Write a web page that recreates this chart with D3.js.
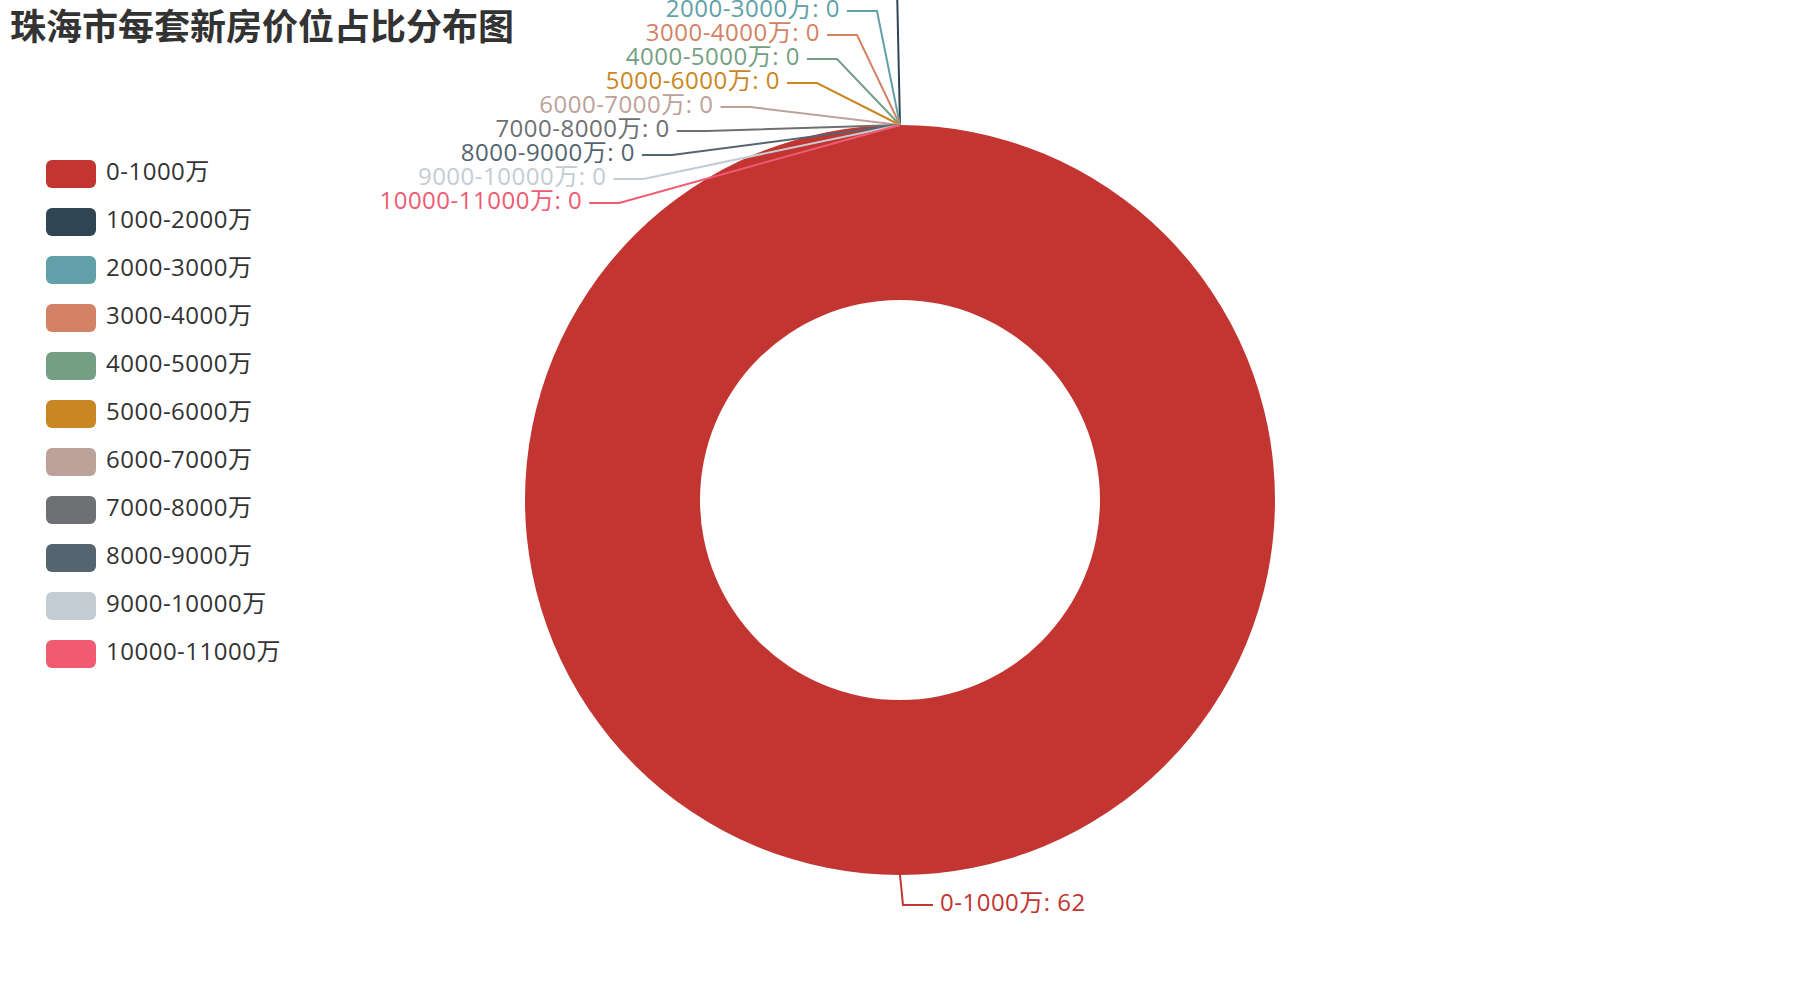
<!DOCTYPE html>
<html>
<head>
<meta charset="utf-8">
<script src="https://cdn.jsdelivr.net/npm/d3@7/dist/d3.min.js"></script>
<style>
  html, body { margin: 0; padding: 0; background: #fff; }
  svg { display: block; }
  text { font-family: "Open Sans", "Noto Sans CJK SC", sans-serif; }
</style>
</head>
<body>
<svg id="chart" width="1800" height="1000"></svg>
<script>
// ---- data ----
const titleText = "珠海市每套新房价位占比分布图";
const categories = ["0-1000万", "1000-2000万", "2000-3000万", "3000-4000万", "4000-5000万",
  "5000-6000万", "6000-7000万", "7000-8000万", "8000-9000万", "9000-10000万", "10000-11000万"];
const values = [62, 0, 0, 0, 0, 0, 0, 0, 0, 0, 0];
const colors = ["#c23531", "#2f4554", "#61a0a8", "#d48265", "#749f83", "#ca8622",
  "#bda29a", "#6e7074", "#546570", "#c4ccd3", "#f05b72"];

// ---- layout ----
const W = 1800, H = 1000;
const cx = 900, cy = 500, rInner = 200, rOuter = 375;
const len1 = 30, len2 = 30, textOffset = 10, lineGap = 7, labelH = 24, stepX = 20;
const textDy = "-3.5";

const svg = d3.select("#chart");
svg.append("rect").attr("width", W).attr("height", H).attr("fill", "#fff");

const data = categories.map((c, i) => ({ name: c, value: values[i], color: colors[i], idx: i }));
const pie = d3.pie().value(d => d.value).sort(null).startAngle(0).endAngle(2 * Math.PI);
const arcs = pie(data);
const arcGen = d3.arc().innerRadius(rInner).outerRadius(rOuter);

const g = svg.append("g").attr("transform", `translate(${cx},${cy})`);
g.selectAll("path.slice").data(arcs).join("path")
  .attr("class", "slice")
  .attr("d", arcGen)
  .attr("fill", d => d.data.color);

// label layout (ECharts-like)
const labels = arcs.map(a => {
  const mid = (a.startAngle + a.endAngle) / 2;
  const dx = Math.sin(mid), dy = -Math.cos(mid);
  const dir = dx < 0 ? -1 : 1;
  const x1 = cx + rOuter * dx, y1 = cy + rOuter * dy;
  const x2 = cx + (rOuter + len1) * dx, y2 = cy + (rOuter + len1) * dy;
  const x3 = x2 + dir * len2;
  return {
    d: a.data, dir, x: x3 + dir * textOffset, y: y2, height: labelH,
    p0: [x1, y1], dist: x2 - x3
  };
});

function adjustSingleSide(list, dir, bottom) {
  list.sort((a, b) => a.y - b.y);
  function shiftUp(end, delta) {
    for (let j = end; j >= 0; j--) {
      list[j].y -= delta;
      if (j > 0 && list[j].y > list[j - 1].y + list[j - 1].height) break;
    }
  }
  function shiftDown(start, end, delta) {
    for (let j = start; j < end; j++) {
      if (list[j].y + delta > bottom) break;
      list[j].y += delta;
      if (j > start && j + 1 < end && list[j + 1].y > list[j].y + list[j].height) {
        shiftUp(j, delta / 2);
        return;
      }
    }
    shiftUp(end - 1, delta / 2);
  }
  function changeX(sub, isDown) {
    let last = isDown ? Number.MAX_VALUE : 0;
    for (const it of sub) {
      const deltaY = Math.abs(it.y - cy);
      let deltaX = deltaY < rOuter + len1
        ? Math.sqrt((rOuter + len1 + len2) ** 2 - deltaY * deltaY)
        : Math.abs(it.x - cx);
      if (isDown && deltaX >= last) deltaX = last - stepX;
      if (!isDown && deltaX <= last) deltaX = last + stepX;
      it.x = cx + deltaX * dir;
      last = deltaX;
    }
  }
  let lastY = 0;
  for (let i = 0; i < list.length; i++) {
    const delta = list[i].y - lastY;
    if (delta < 0) shiftDown(i, list.length, -delta);
    lastY = list[i].y + list[i].height;
  }
  if (bottom - lastY < 0) shiftUp(list.length - 1, lastY - bottom);
  const up = list.filter(l => l.y < cy), down = list.filter(l => l.y >= cy);
  changeX(up, false);
  changeX(down, true);
}
adjustSingleSide(labels.filter(l => l.dir > 0), 1, H);
adjustSingleSide(labels.filter(l => l.dir < 0), -1, H);

labels.forEach(l => {
  const endX = l.x - l.dir * lineGap;
  l.points = [l.p0, [endX + l.dist, l.y], [endX, l.y]];
});

const lab = svg.append("g");
lab.selectAll("polyline").data(labels).join("polyline")
  .attr("points", d => d.points.map(p => p.join(",")).join(" "))
  .attr("fill", "none")
  .attr("stroke", d => d.d.color)
  .attr("stroke-width", 2);
lab.selectAll("text").data(labels).join("text")
  .attr("x", d => d.x)
  .attr("y", d => d.y)
  .attr("dy", textDy)
  .attr("text-anchor", d => d.dir < 0 ? "end" : "start")
  .attr("dominant-baseline", "central")
  .attr("font-size", 24)
  .attr("letter-spacing", 0.5)
  .attr("fill", d => d.d.color)
  .text(d => `${d.d.name}: ${d.d.value}`);

// legend
const legend = svg.append("g");
const item = legend.selectAll("g").data(data).join("g")
  .attr("transform", (d, i) => `translate(46,${160 + i * 48})`);
item.append("rect").attr("width", 50).attr("height", 28).attr("rx", 6).attr("ry", 6)
  .attr("fill", d => d.color);
item.append("text").attr("x", 60).attr("y", 14)
  .attr("dy", textDy)
  .attr("dominant-baseline", "central")
  .attr("font-size", 24).attr("letter-spacing", 0.5).attr("fill", "#333")
  .text(d => d.name);

// title
svg.append("text").attr("x", 10).attr("y", 40)
  .attr("font-family", "'Noto Sans CJK SC', sans-serif")
  .attr("font-weight", "bold").attr("font-size", 36).attr("fill", "#333")
  .text(titleText);
</script>
</body>
</html>
